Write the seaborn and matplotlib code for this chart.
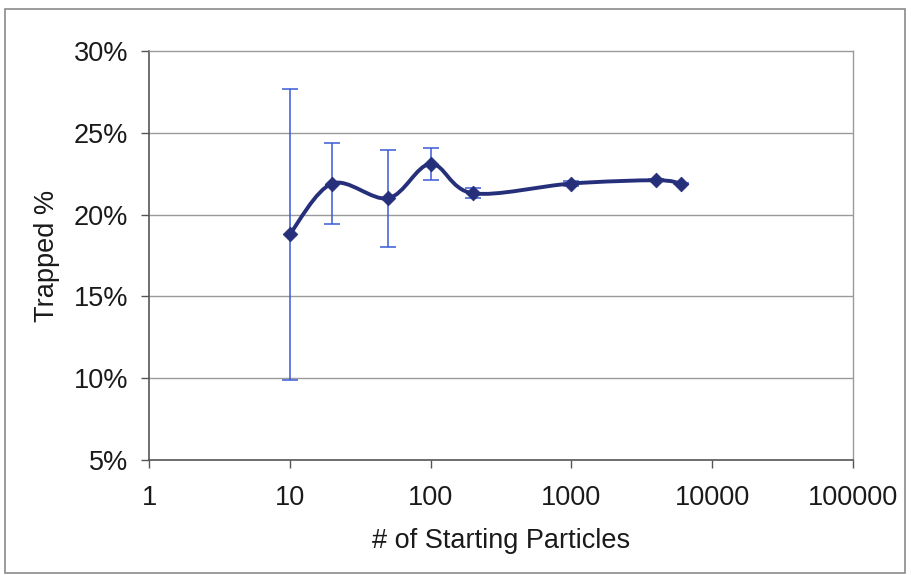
import numpy as np
import pandas as pd
import seaborn as sns
import matplotlib
matplotlib.use("Agg")
import matplotlib.pyplot as plt
from matplotlib.path import Path
from matplotlib.patches import PathPatch, Rectangle
from matplotlib.ticker import FixedLocator, FuncFormatter

particles = [10, 20, 50, 100, 200, 1000, 4000, 6000]
trapped = [18.8, 21.9, 21.0, 23.1, 21.3, 21.9, 22.1, 21.9]
err = [8.9, 2.45, 2.95, 1.0, 0.3, 0.15, 0.05, 0.05]
x_ticks = [1, 10, 100, 1000, 10000, 100000]
y_ticks = [5, 10, 15, 20, 25, 30]

df = pd.DataFrame({"particles": particles, "trapped": trapped, "err": err})

sns.set_theme(style="white")
plt.rcParams["font.family"] = ["Liberation Sans", "DejaVu Sans"]

FS = 19.5
fig = plt.figure(figsize=(9.12, 5.75), dpi=100)
ax = fig.add_axes([149/912, 115/575, (853-149)/912, (460-51)/575])

line_color = "#262f7a"
err_color = "#3a5bd6"

ax.set_xscale("log")
ax.set_xlim(1, 100000)
ax.set_ylim(5, 30)

# error bars
ax.errorbar(df["particles"], df["trapped"], yerr=df["err"], fmt="none",
            ecolor=err_color, elinewidth=1.1, capsize=6, capthick=1.1, zorder=2)

# smoothed line (Excel-style Bezier through the data points, in log-x space)
lx = np.log10(df["particles"].to_numpy(float))
yy = df["trapped"].to_numpy(float)
n = len(lx)
verts = [(10**lx[0], yy[0])]
codes = [Path.MOVETO]
t = 1/6
for i in range(n - 1):
    p0 = (lx[i-1], yy[i-1]) if i > 0 else (lx[i], yy[i])
    p1 = (lx[i], yy[i])
    p2 = (lx[i+1], yy[i+1])
    p3 = (lx[i+2], yy[i+2]) if i + 2 < n else p2
    c1 = (p1[0] + (p2[0]-p0[0])*t, p1[1] + (p2[1]-p0[1])*t)
    c2 = (p2[0] - (p3[0]-p1[0])*t, p2[1] - (p3[1]-p1[1])*t)
    for c in (c1, c2, p2):
        verts.append((10**c[0], c[1]))
        codes.append(Path.CURVE4)
ax.add_patch(PathPatch(Path(verts, codes), facecolor="none",
                       edgecolor=line_color, lw=2.8, zorder=3))

sns.scatterplot(data=df, x="particles", y="trapped", marker="D", s=55,
                color=line_color, edgecolor=line_color, ax=ax, zorder=4)

# grid
for yv in y_ticks[1:-1]:
    ax.axhline(yv, color="#9a9a9a", lw=1.0, zorder=1)

for side in ["top", "right"]:
    ax.spines[side].set_color("#9a9a9a")
    ax.spines[side].set_linewidth(1.0)
for side in ["left", "bottom"]:
    ax.spines[side].set_color("#555555")
    ax.spines[side].set_linewidth(1.2)

ax.xaxis.set_major_locator(FixedLocator(x_ticks))
ax.xaxis.set_minor_locator(FixedLocator([]))
ax.xaxis.set_major_formatter(FuncFormatter(lambda v, p: f"{int(round(v))}"))
ax.yaxis.set_major_locator(FixedLocator(y_ticks))
ax.yaxis.set_major_formatter(FuncFormatter(lambda v, p: f"{int(round(v))}%"))
ax.tick_params(axis="both", which="major", direction="out", length=6, width=1,
               color="#555555", labelsize=FS, labelcolor="#1a1a1a", bottom=True, left=True)
ax.tick_params(axis="x", pad=12)
ax.tick_params(axis="y", pad=9)

ax.set_xlabel("# of Starting Particles", fontsize=FS, color="#1a1a1a", labelpad=12)
ax.set_ylabel("Trapped %", fontsize=FS, color="#1a1a1a", labelpad=10)

# outer chart border
fig.add_artist(Rectangle((5/912, 2/575), 900/912, 564/575, transform=fig.transFigure,
                         fill=False, edgecolor="#8a8a8a", lw=1.2))

fig.savefig("out.png", dpi=100, facecolor="white")
